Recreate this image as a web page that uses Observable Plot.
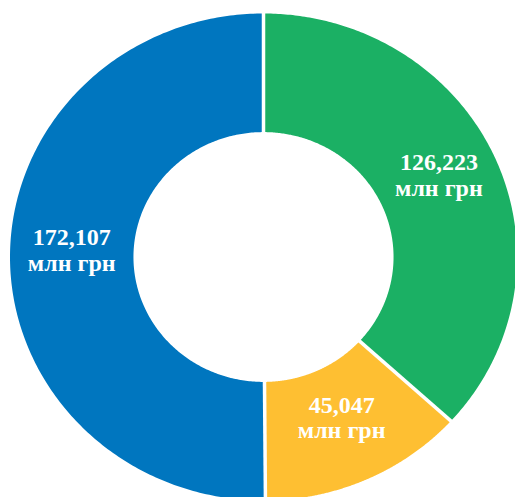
<!DOCTYPE html>
<html>
<head>
<meta charset="utf-8">
<script src="https://cdn.jsdelivr.net/npm/d3@7"></script>
<script src="https://cdn.jsdelivr.net/npm/@observablehq/plot@0.6"></script>
<style>
  html, body { margin: 0; padding: 0; background: #fff; overflow: hidden; }
  #chart svg { display: block; overflow: hidden; }
</style>
</head>
<body>
<div id="chart"></div>
<script>
// Data (clockwise from 12 o'clock)
const categories = ["green", "yellow", "blue"];
const values = [126223, 45047, 172107];
const unitLabel = "млн грн";
const colors = ["#1bb064", "#febf32", "#0076bf"];

const innerR = 0.513;
const outerR = 1;

const pie = d3.pie().sort(null).value(d => d)(values);

function arcPoints(a0, a1, r0, r1, n = 240) {
  const pts = [];
  for (let i = 0; i <= n; i++) {
    const a = a0 + (a1 - a0) * i / n;
    pts.push({x: r1 * Math.sin(a), y: r1 * Math.cos(a)});
  }
  for (let i = n; i >= 0; i--) {
    const a = a0 + (a1 - a0) * i / n;
    pts.push({x: r0 * Math.sin(a), y: r0 * Math.cos(a)});
  }
  return pts;
}

const sliceMarks = pie.map((p, i) =>
  Plot.line(arcPoints(p.startAngle, p.endAngle, innerR, outerR), {
    x: "x", y: "y", fill: colors[i], stroke: "none", curve: "linear"
  })
);

const seams = pie.map(p => {
  const a = p.startAngle;
  return {x1: (innerR - 0.02) * Math.sin(a), y1: (innerR - 0.02) * Math.cos(a),
          x2: (outerR + 0.03) * Math.sin(a), y2: (outerR + 0.03) * Math.cos(a)};
});

const fmt = d3.format(",");
const labels = pie.map((p, i) => {
  const a = (p.startAngle + p.endAngle) / 2;
  const r = (innerR + outerR) / 2;
  return {x: r * Math.sin(a), y: r * Math.cos(a), text: fmt(values[i]) + "\n" + unitLabel};
});

const chart = Plot.plot({
  width: 515,
  height: 497,
  margin: 0,
  x: {domain: [-1, 1], range: [9.5, 516.5], axis: null},
  y: {domain: [-1, 1], range: [500, 13], axis: null},
  marks: [
    ...sliceMarks,
    Plot.link(seams, {x1: "x1", y1: "y1", x2: "x2", y2: "y2", stroke: "white", strokeWidth: 3.5}),
    Plot.text(labels, {
      x: "x", y: "y", text: "text", dy: -8,
      fill: "white", fontSize: 24, fontWeight: "bold",
      fontFamily: "Liberation Serif", lineHeight: 1.08
    })
  ]
});
document.getElementById("chart").appendChild(chart);
</script>
</body>
</html>
